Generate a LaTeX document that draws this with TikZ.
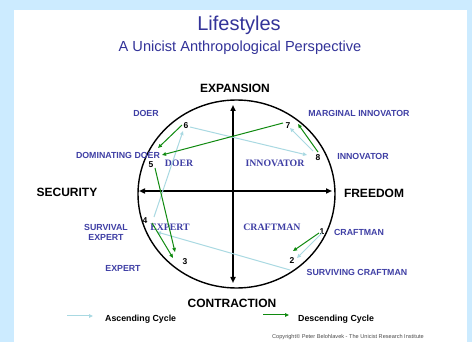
\documentclass[tikz,border=0pt]{standalone}
\usepackage{fontspec}
\setmainfont{Liberation Sans}
\newfontfamily\serifbold{Liberation Serif}
\usetikzlibrary{arrows.meta}
\definecolor{bgblue}{HTML}{CCEBFF}
\definecolor{titleblue}{HTML}{333399}
\definecolor{lblblue}{HTML}{3F3FA5}
\definecolor{asc}{HTML}{A9D9E2}
\definecolor{desc}{HTML}{108A10}
\tikzset{
  axislbl/.style={font=\fontsize{12}{12}\selectfont\bfseries, text=black, inner sep=0},
  outlbl/.style={font=\fontsize{8.8}{10}\selectfont\bfseries, text=lblblue, inner sep=0, align=center},
  inlbl/.style={font=\serifbold\fontsize{9.8}{10}\selectfont\bfseries, text=lblblue, inner sep=0},
  numlbl/.style={font=\fontsize{8.5}{8.5}\selectfont\bfseries, text=black, inner sep=0},
  ascarrow/.style={draw=asc, line width=1pt, -{Triangle[length=4pt,width=3.5pt]}},
  descarrow/.style={draw=desc, line width=1pt, -{Triangle[length=4pt,width=3.5pt]}},
  axisarrow/.style={draw=black, line width=1.6pt, -{Triangle[length=6pt,width=5pt]}},
}
\begin{document}
\begin{tikzpicture}[x=1pt,y=-1pt]
\useasboundingbox (0,0) rectangle (472,342);
\fill[bgblue] (0,0) rectangle (472,342);
\fill[white] (14,10) rectangle (467,342);
% titles
\node[font=\fontsize{20}{20}\selectfont, text=titleblue, inner sep=0] (title) at (239,25) {Lifestyles};
\node[font=\fontsize{14.6}{15}\selectfont, text=titleblue, inner sep=0] (subtitle) at (240,48) {A Unicist Anthropological Perspective};
% ellipse
\draw[black, line width=1.4pt] (236.5,194) ellipse [x radius=98.5, y radius=94];
% axes
\coordinate (vtop) at (233,105);
\coordinate (vbot) at (233,283);
\coordinate (hleft) at (139,191);
\coordinate (hright) at (332,191);
\coordinate (ctr) at (233,191);
\draw[axisarrow] (ctr) -- (vtop);
\draw[axisarrow] (ctr) -- (vbot);
\draw[axisarrow] (ctr) -- (hleft);
\draw[axisarrow] (ctr) -- (hright);
% axis labels
\node[axislbl] (exp) at (235,88) {EXPANSION};
\node[axislbl] (con) at (232,303) {CONTRACTION};
\node[axislbl] (sec) at (67,192) {SECURITY};
\node[axislbl] (fre) at (374,193) {FREEDOM};
% outer labels
\node[outlbl] (doer) at (146,113) {DOER};
\node[outlbl] (domdoer) at (118,155.5) {DOMINATING DOER};
\node[outlbl] (margin) at (359,113) {MARGINAL INNOVATOR};
\node[outlbl] (innov) at (363,156) {INNOVATOR};
\node[outlbl] (survexp) at (106,232) {SURVIVAL\\EXPERT};
\node[outlbl] (expert) at (123,268) {EXPERT};
\node[outlbl] (craft) at (359,232) {CRAFTMAN};
\node[outlbl] (survcraft) at (357,272) {SURVIVING CRAFTMAN};
% inner labels
\node[inlbl] (idoer) at (179,163) {DOER};
\node[inlbl] (iinnov) at (275,163) {INNOVATOR};
\node[inlbl] (iexpert) at (170,227) {EXPERT};
\node[inlbl] (icraft) at (272,227) {CRAFTMAN};
% numbers
\node[numlbl] (n1) at (322,232) {1};
\node[numlbl] (n2) at (292,261) {2};
\node[numlbl] (n3) at (185,262) {3};
\node[numlbl] (n4) at (145,221) {4};
\node[numlbl] (n5) at (151,165) {5};
\node[numlbl] (n6) at (186,126) {6};
\node[numlbl] (n7) at (288,126) {7};
\node[numlbl] (n8) at (318,158) {8};
% arrow end points
\coordinate (a12s) at (322,233); \coordinate (a12e) at (297,258);
\coordinate (a24s) at (290,270); \coordinate (a24e) at (157,232);
\coordinate (a46s) at (154,217); \coordinate (a46e) at (183,131);
\coordinate (a68s) at (190,127); \coordinate (a68e) at (307,155);
\coordinate (a87s) at (313,151); \coordinate (a87e) at (290,128);
\coordinate (d12s) at (319,233); \coordinate (d12e) at (293,251);
\coordinate (d87s) at (318,152); \coordinate (d87e) at (298,124);
\coordinate (d75s) at (283,123); \coordinate (d75e) at (162,155);
\coordinate (d65s) at (182,125); \coordinate (d65e) at (158,148);
\coordinate (d53s) at (155,168); \coordinate (d53e) at (175,252);
\coordinate (d43s) at (152,223); \coordinate (d43e) at (173,258);
% ascending cycle
\draw[ascarrow] (a12s) -- (a12e);
\draw[ascarrow] (a24s) -- (a24e);
\draw[ascarrow] (a46s) -- (a46e);
\draw[ascarrow] (a68s) -- (a68e);
\draw[ascarrow] (a87s) -- (a87e);
% descending cycle
\draw[descarrow] (d12s) -- (d12e);
\draw[descarrow] (d87s) -- (d87e);
\draw[descarrow] (d75s) -- (d75e);
\draw[descarrow] (d65s) -- (d65e);
\draw[descarrow] (d53s) -- (d53e);
\draw[descarrow] (d43s) -- (d43e);
% legend
\coordinate (la1) at (67,316); \coordinate (la2) at (93,316);
\coordinate (ld1) at (263,315); \coordinate (ld2) at (289,315);
\draw[ascarrow] (la1) -- (la2);
\draw[descarrow] (ld1) -- (ld2);
\node[font=\fontsize{8.8}{9}\selectfont\bfseries, inner sep=0, anchor=west] (lasc) at (105,319) {Ascending Cycle};
\node[font=\fontsize{8.8}{9}\selectfont\bfseries, inner sep=0, anchor=west] (ldesc) at (298,319) {Descending Cycle};
\node[font=\fontsize{5.6}{6}\selectfont, text=black!70, inner sep=0, anchor=west] (copy) at (272,337.5) {Copyright© Peter Belohlavek - The Unicist Research Institute};
\end{tikzpicture}
\end{document}
